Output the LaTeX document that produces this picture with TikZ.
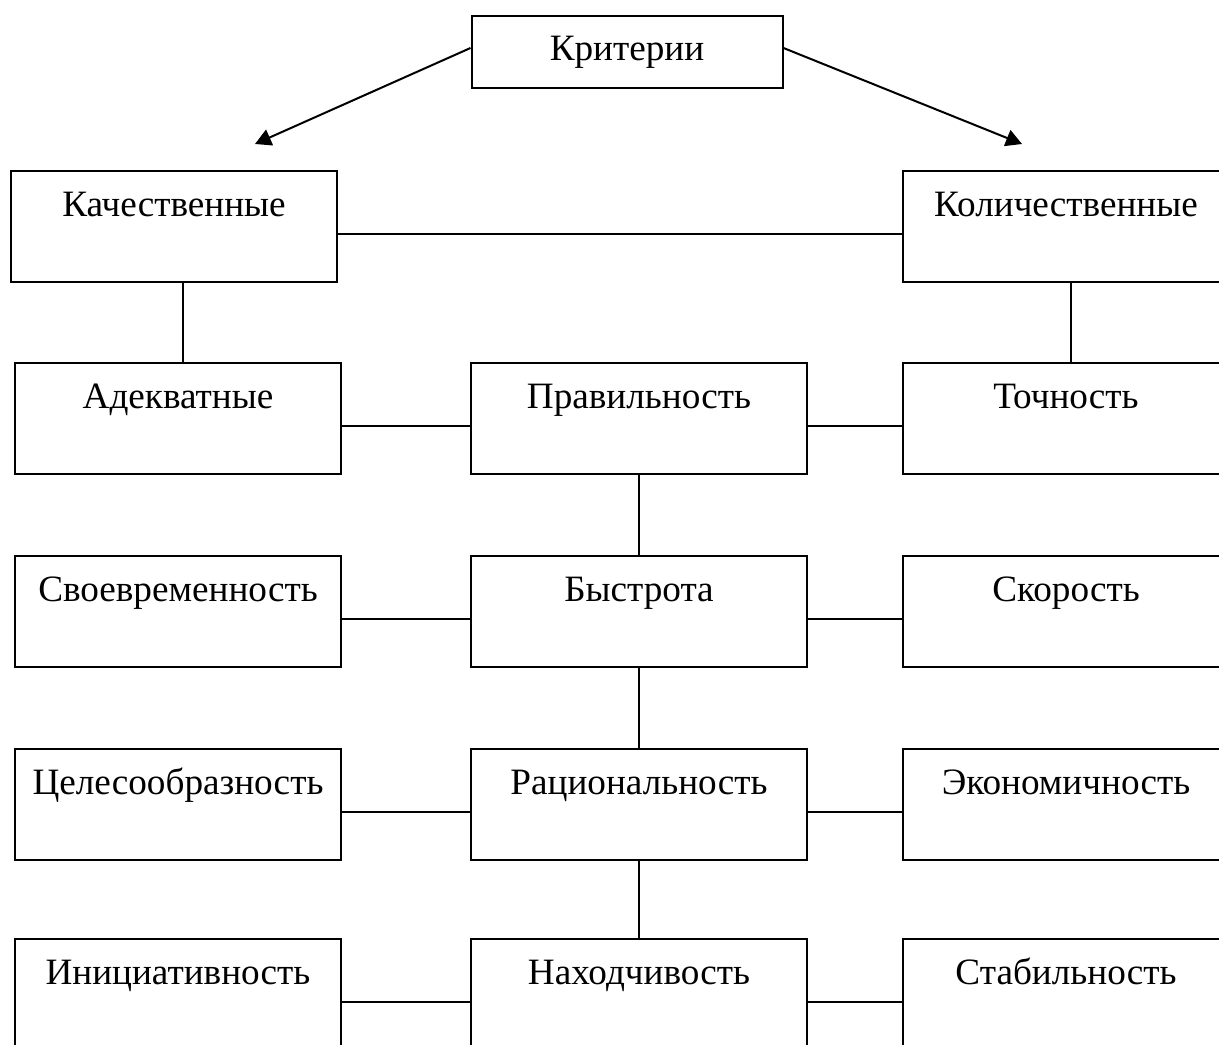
\documentclass[tikz,border=0pt]{standalone}
\usepackage{fontspec}
\setmainfont{Liberation Serif}
\usetikzlibrary{positioning,arrows.meta}
\tikzstyle{sidebox} = [rectangle, draw=black, line width=1pt, minimum width=163pt, minimum height=55.5pt, inner sep=0pt, text height=22.5pt, text depth=33pt]
\tikzstyle{midbox} = [sidebox, minimum width=168pt]
\tikzstyle{topbox} = [rectangle, draw=black, line width=1pt, minimum width=155.5pt, minimum height=36pt, inner sep=0pt]
\tikzstyle{link} = [line width=1pt]
\tikzstyle{arrow} = [line width=1pt,-{Triangle[length=8pt,width=8.5pt]}]

\begin{document}
\begin{tikzpicture}[font=\fontsize{18.6}{22}\selectfont] % Page frame in pt, origin at top left
\useasboundingbox (0,0) rectangle (609.5pt,-522pt);

% Place the boxes, row by row
\node(adekv)    [sidebox, anchor=north west] at (7pt,-181pt) {Адекватные};
\node(prav)     [midbox,  right=64pt of adekv]     {Правильность};
\node(toch)     [sidebox, right=47pt of prav]      {Точность};
\node(kach)     [sidebox, above=39.5pt of adekv, xshift=-2pt] {Качественные};
\node(kol)      [sidebox, above=39.5pt of toch]    {Количественные};
\node(krit)     [topbox] at (313.5pt,-26pt)        {Критерии};
\node(svoevr)   [sidebox, below=40pt of adekv]     {Своевременность};
\node(bystr)    [midbox,  below=40pt of prav]      {Быстрота};
\node(skor)     [sidebox, below=40pt of toch]      {Скорость};
\node(tsel)     [sidebox, below=40pt of svoevr]    {Целесообразность};
\node(rats)     [midbox,  below=40pt of bystr]     {Рациональность};
\node(ekon)     [sidebox, below=40pt of skor]      {Экономичность};
\node(inits)    [sidebox, below=38.5pt of tsel]    {Инициативность};
\node(nakh)     [midbox,  below=38.5pt of rats]    {Находчивость};
\node(stab)     [sidebox, below=38.5pt of ekon]    {Стабильность};

% Free ends of the two arrows
\coordinate(tipL) at (127.5pt,-72pt);
\coordinate(tipR) at (511pt,-72pt);

% Connect the boxes
\draw [arrow] ([yshift=2pt]krit.west) -- (tipL);
\draw [arrow] ([yshift=2pt]krit.east) -- (tipR);
\draw [link] ([yshift=-3.5pt]kach.east) -- ([yshift=-3.5pt]kol.west);
\draw [link] ([xshift=2.5pt]adekv.north) -- ([xshift=2.5pt]adekv.north |- kach.south);
\draw [link] ([xshift=2.5pt]toch.north) -- ([xshift=2.5pt]toch.north |- kol.south);
\foreach \l/\m/\r in {adekv/prav/toch, svoevr/bystr/skor, tsel/rats/ekon, inits/nakh/stab}{
  \draw [link] ([yshift=-3.5pt]\l.east) -- ([yshift=-3.5pt]\m.west);
  \draw [link] ([yshift=-3.5pt]\m.east) -- ([yshift=-3.5pt]\r.west);
}
\draw [link] (prav.south) -- (bystr.north);
\draw [link] (bystr.south) -- (rats.north);
\draw [link] (rats.south) -- (nakh.north);

\end{tikzpicture}
\end{document}
